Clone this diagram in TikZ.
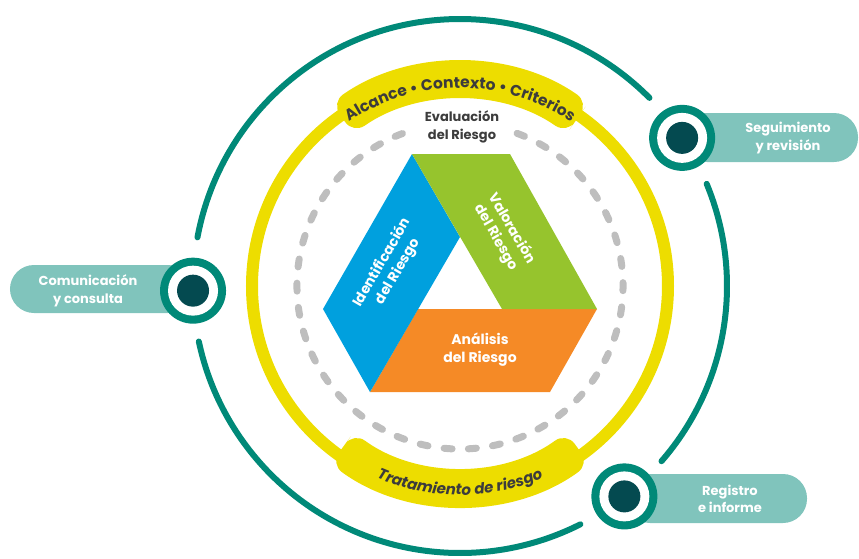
\documentclass[tikz,border=0pt]{standalone}
\usepackage{fontspec}
\setmainfont{Poppins}
\usetikzlibrary{decorations.text}
\definecolor{tealA}{RGB}{0,137,120}
\definecolor{tealL}{RGB}{128,196,188}
\definecolor{tealD}{RGB}{4,74,80}
\definecolor{ylw}{RGB}{237,221,0}
\definecolor{gry}{RGB}{190,190,190}
\definecolor{blu}{RGB}{0,160,222}
\definecolor{grn}{RGB}{150,196,45}
\definecolor{org}{RGB}{245,138,38}
\definecolor{txt}{RGB}{60,60,60}
\begin{document}
\begin{tikzpicture}[x=1pt,y=1pt,
  tealarc/.style={draw=tealA, line width=6, line cap=round},
  pill/.style={fill=tealL, rounded corners=24},
  pilltext/.style={text=white, font=\fontsize{13}{17.5}\selectfont\bfseries, align=center},
  whitetext/.style={text=white, font=\fontsize{14}{18}\selectfont\bfseries, align=center},
  band/.style={fill=ylw, rounded corners=14}]
\useasboundingbox (-460,-272) rectangle (399,286);

% outer teal ring pieces
\draw[tealarc] (44.8:267) arc[start angle=44.8, end angle=169.5, radius=267];
\draw[tealarc] (192:267) arc[start angle=192, end angle=296.8, radius=267];
\draw[tealarc] (-41:267) arc[start angle=-41, end angle=22.5, radius=267];

% yellow ring and banners
\draw[ylw, line width=12] (0,0) circle[radius=208];
\fill[band] (55:205) -- (55:224) arc[start angle=55, end angle=125, radius=224]
  -- (125:186) arc[start angle=125, end angle=55, radius=186] -- cycle;
\fill[band] (-126:200) -- (-126:220) arc[start angle=-126, end angle=-54, radius=220]
  -- (-54:181) arc[start angle=-54, end angle=-126, radius=181] -- cycle;

\path[decorate, decoration={text along path, text align=center,
  text={|\fontsize{15.5}{15}\selectfont\bfseries\color{txt}|Alcance • Contexto • Criterios}}]
  (130:198) arc[start angle=130, end angle=50, radius=198];
\path[decorate, decoration={text along path, text align=center,
  text={|\fontsize{15}{15}\selectfont\bfseries\itshape\color{txt}|Tratamiento de riesgo}}]
  (-128:209) arc[start angle=-128, end angle=-52, radius=209];

% dashed grey circle
\draw[gry, line width=7, line cap=round, dash pattern=on 8 off 16.3]
  (69.5:163) arc[start angle=69.5, end angle=-249.5, radius=163];

\node[text=txt, font=\fontsize{13}{17.5}\selectfont\bfseries, align=center] (eval) at (2,159) {Evaluación\\del Riesgo};

% triangle of parallelograms
\fill[org] (-42,-23) -- (137,-23) -- (90,-106) -- (-90,-106) -- cycle;
\fill[blu] (-48,132) -- (-137,-23) -- (-90,-106) -- (0,49) -- cycle;
\fill[grn] (-48,132) -- (50,132) -- (137,-23) -- (42,-23) -- cycle;

\node[whitetext, rotate=60] (ident) at (-70,19) {Identificación\\del Riesgo};
\node[whitetext, rotate=-60] (valor) at (44,53) {Valoración\\del Riesgo};
\node[whitetext] (anal) at (20,-64) {Análisis\\del Riesgo};

% pills
\fill[pill] (223,124) rectangle (398,173);
\fill[pill] (-450,-27) rectangle (-268,21);
\fill[pill] (166,-237) rectangle (347,-188);
\node[pilltext] (seg) at (328,148) {Seguimiento\\y revisión};
\node[pilltext] (com) at (-372,-5) {Comunicación\\y consulta};
\node[pilltext] (reg) at (270,-213) {Registro\\e informe};

% buttons
\foreach \a/\n in {33.7/b1, 181/b2, -52/b3}{
  \fill[tealA] (\a:267) circle[radius=33];
  \fill[white] (\a:267) circle[radius=25];
  \fill[tealD] (\a:267) circle[radius=16];
  \coordinate (\n) at (\a:267);
}
\end{tikzpicture}
\end{document}
